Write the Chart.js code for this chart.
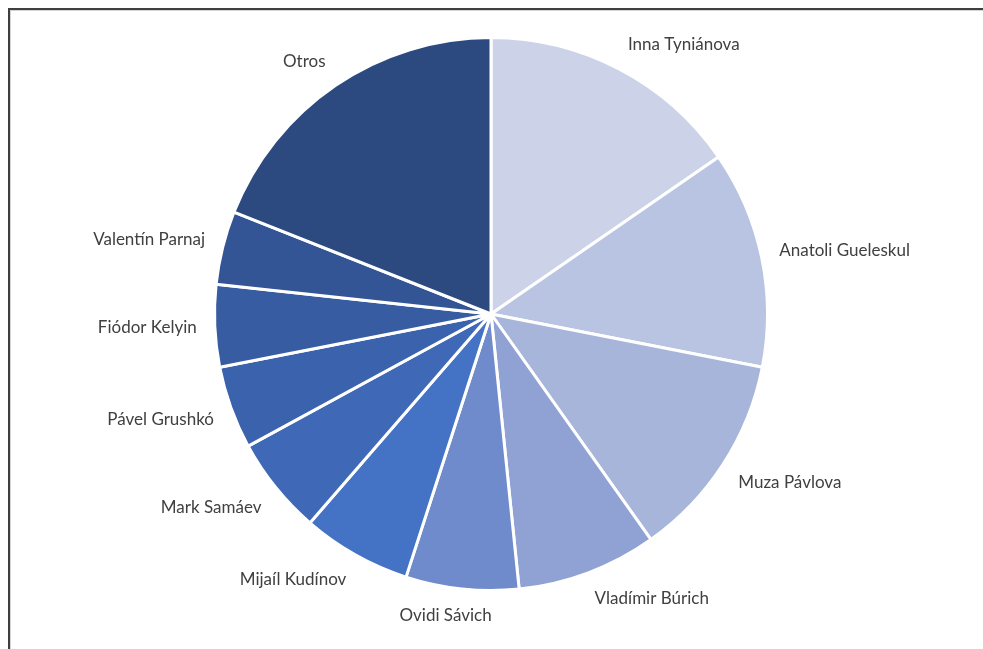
<!DOCTYPE html>
<html>
<head>
<meta charset="utf-8">
<script src="https://cdn.jsdelivr.net/npm/chart.js@4"></script>
<style>
  html, body { margin: 0; padding: 0; background: #fff; overflow: hidden; }
  #frame {
    position: absolute; left: 8px; top: 8px; width: 1100px; height: 800px;
    border-left: 2px solid #3f3f3f; border-top: 2px solid #3f3f3f;
    box-shadow: inset 1px 1px 0 #d4d4d4;
  }
  #wrap { position: absolute; left: 0; top: 0; width: 983px; height: 649px; }
</style>
</head>
<body>
<div id="frame"></div>
<div id="wrap"><canvas id="pie"></canvas></div>
<script>
// slice names, clockwise from 12 o'clock
var labels = ['Inna Tyniánova', 'Anatoli Gueleskul', 'Muza Pávlova', 'Vladímir Búrich',
  'Ovidi Sávich', 'Mijaíl Kudínov', 'Mark Samáev', 'Pável Grushkó', 'Fiódor Kelyin',
  'Valentín Parnaj', 'Otros'];
// share of each slice (%)
var values = [15.4, 12.7, 12.1, 8.2, 6.6, 6.4, 5.7, 4.85, 4.8, 4.3, 19.0];
var colors = ['#ccd2e8', '#b9c3e2', '#a7b5db', '#8fa2d3', '#6f8bcb', '#4472c4',
  '#3f69b7', '#3b62ac', '#375ca2', '#335596', '#2c4a80'];

// outside-end labels, the inner corner of the text box sits next to the arc
var outsideLabels = {
  id: 'outsideLabels',
  afterDatasetsDraw: function (chart) {
    var ctx = chart.ctx;
    var meta = chart.getDatasetMeta(0);
    ctx.save();
    ctx.font = '17px Lato';
    ctx.fillStyle = '#404040';
    ctx.textAlign = 'center';
    ctx.textBaseline = 'middle';
    meta.data.forEach(function (arc, i) {
      var mid = (arc.startAngle + arc.endAngle) / 2;
      var rr = arc.outerRadius + 18;
      var ax = arc.x + rr * Math.cos(mid);
      var ay = arc.y + rr * Math.sin(mid);
      var w = ctx.measureText(labels[i]).width;
      var h = 17;
      var sx = Math.max(-1, Math.min(1, 3 * Math.cos(mid)));
      var sy = Math.max(-1, Math.min(1, 2 * Math.sin(mid)));
      ctx.fillText(labels[i], ax + sx * w / 2, ay + sy * h / 2);
    });
    ctx.restore();
  }
};

new Chart(document.getElementById('pie'), {
  type: 'pie',
  data: {
    labels: labels,
    datasets: [{
      data: values,
      backgroundColor: colors,
      borderColor: '#ffffff',
      borderWidth: 3
    }]
  },
  options: {
    responsive: true,
    maintainAspectRatio: false,
    animation: false,
    layout: { padding: { top: 36, bottom: 57, left: 0, right: 1 } },
    plugins: {
      legend: { display: false },
      tooltip: { enabled: false }
    }
  },
  plugins: [outsideLabels]
});
</script>
</body>
</html>
